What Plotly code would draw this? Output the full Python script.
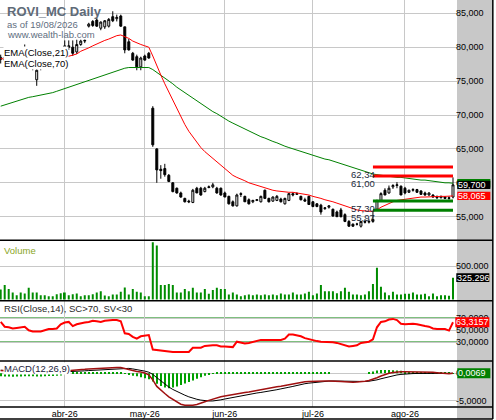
import pandas as pd
import plotly.graph_objects as go

# ---------------- data ----------------
HOLIDAYS = ["2026-04-03", "2026-04-06", "2026-05-01"]
dates = [d.strftime("%Y-%m-%d") for d in pd.bdate_range("2026-03-10", "2026-08-19")
         if d.strftime("%Y-%m-%d") not in HOLIDAYS]

month_ticks = ["2026-04-01", "2026-05-04", "2026-06-01", "2026-07-01", "2026-08-03"]
month_labels = ["abr-26", "may-26", "jun-26", "jul-26", "ago-26"]

open_ = [78.2,78.5,78.1,77.6,78.0,78.8,78.4,79.6,78.2,75.2,
         77.5,77.0,77.8,78.5,78.2,79.0,79.6,80.2,80.0,79.3,
         80.4,80.9,83.1,83.8,84.0,82.8,83.0,83.1,84.5,84.2,
         84.6,83.0,80.8,79.1,78.6,77.1,78.7,79.1,71.0,65.0,
         62.0,62.1,61.1,60.0,59.2,58.5,57.7,57.3,57.1,59.2,
         59.2,58.7,59.3,59.4,59.2,59.2,58.5,58.0,57.2,56.6,
         58.4,58.0,57.5,57.2,57.4,57.2,58.9,57.7,57.3,57.4,
         57.6,56.9,57.4,58.4,58.3,58.0,57.5,58.0,57.2,56.9,
         56.7,56.2,56.4,56.1,55.7,56.0,55.3,54.3,53.9,53.9,
         53.6,54.3,54.2,54.3,56.1,57.4,58.9,58.5,59.4,59.6,
         59.5,59.2,58.6,58.9,59.0,58.8,58.5,58.2,58.2,58.0,
         57.8,57.9,57.8,57.9]
high = [78.9,79.2,78.6,78.3,79.0,79.5,80.4,79.8,78.5,77.0,
        78.0,78.4,78.8,79.0,79.3,79.6,81.0,81.0,81.0,81.1,
        81.1,81.1,83.6,84.0,84.3,83.8,84.0,84.3,85.3,84.8,
        84.8,83.0,81.2,79.3,78.9,78.6,78.9,79.3,71.3,65.1,
        62.6,62.8,61.3,60.1,59.3,58.7,57.8,57.5,59.1,59.4,
        59.4,59.4,59.6,60.0,59.4,59.3,58.7,58.1,57.4,58.4,
        58.6,58.1,57.7,57.5,57.6,58.1,59.0,57.8,58.0,58.2,
        57.8,57.8,58.5,58.6,58.6,58.1,57.8,58.1,57.3,57.0,
        56.9,56.4,56.7,56.2,55.9,56.3,55.5,54.5,54.0,54.1,
        54.4,54.6,54.6,55.9,57.5,58.6,59.2,59.6,59.8,60.1,
        59.6,59.4,59.0,59.2,59.1,58.9,58.7,58.6,58.3,58.1,
        58.1,58.0,58.0,60.8]
low = [77.6,78.0,77.4,77.2,77.8,78.2,78.2,78.0,76.6,74.3,
       76.6,76.8,77.4,77.9,78.0,78.5,79.0,79.6,78.7,79.0,
       80.2,80.6,82.9,83.0,83.0,82.5,82.7,82.9,83.7,83.8,
       83.0,79.1,79.5,78.0,76.6,76.6,78.0,78.3,65.3,60.0,
       60.6,60.9,60.1,58.6,58.4,57.8,57.1,57.0,57.0,58.5,
       58.1,58.6,59.2,59.2,58.4,58.1,57.9,56.8,56.5,56.5,
       57.9,57.2,56.8,57.0,57.3,57.1,57.6,57.1,57.2,57.3,
       57.1,56.8,57.3,58.0,58.2,57.4,57.2,56.8,56.4,56.4,
       55.3,56.0,56.2,55.0,55.0,54.9,54.2,53.5,53.5,53.7,
       53.4,54.0,54.0,54.1,55.9,57.2,58.2,58.4,59.1,59.2,
       58.2,58.3,58.5,58.7,58.5,58.2,58.1,58.1,57.8,57.6,
       57.7,57.6,57.5,57.7]
close = [78.5,78.1,77.6,78.0,78.8,78.4,79.6,78.2,77.0,76.6,
         76.9,77.8,78.5,78.2,79.0,79.4,80.2,80.0,79.1,80.4,
         80.9,81.0,83.4,83.2,83.1,83.7,83.9,84.1,83.9,84.4,
         83.1,79.6,79.6,78.1,77.1,78.4,78.1,78.4,65.6,61.9,
         61.8,61.2,60.2,58.7,58.5,57.9,57.2,57.2,58.9,58.5,
         58.2,59.2,59.4,59.7,58.5,58.2,57.9,56.9,56.6,58.2,
         58.3,57.2,56.9,57.4,57.5,58.0,57.7,57.2,57.9,58.0,
         57.2,57.7,58.4,58.2,58.4,57.5,57.3,56.8,56.5,56.5,
         55.7,56.3,56.6,55.1,55.0,55.0,54.3,53.6,53.6,53.9,
         54.3,54.2,54.3,54.6,57.4,58.4,58.2,59.2,59.6,59.7,
         58.2,58.5,58.9,59.0,58.6,58.3,58.2,58.5,57.9,57.8,
         58.0,57.7,57.7,59.7]

ema21 = [78.3,78.3,78.3,78.2,78.2,78.2,78.3,78.2,78.0,77.9,
         77.8,77.8,77.9,78.0,78.1,78.3,78.5,78.7,78.8,79.0,
         79.4,79.6,79.9,80.2,80.5,80.7,81.0,81.2,81.5,81.7,
         81.8,81.6,81.3,80.9,80.6,80.4,80.2,80.0,78.7,77.2,
         75.9,74.6,73.4,72.1,70.9,69.7,68.6,67.6,66.8,66.0,
         65.2,64.6,64.1,63.6,63.1,62.6,62.1,61.6,61.1,60.8,
         60.6,60.3,60.0,59.8,59.6,59.4,59.2,59.0,58.9,58.8,
         58.7,58.6,58.6,58.6,58.5,58.5,58.4,58.2,58.0,57.9,
         57.7,57.5,57.4,57.2,57.0,56.8,56.6,56.3,56.2,56.0,
         55.9,55.8,55.8,55.8,56.0,56.4,56.7,57.0,57.2,57.4,
         57.5,57.6,57.7,57.8,57.9,57.9,57.9,57.95,57.95,57.95,
         58.0,58.0,58.0,58.065]
ema70 = [71.3,71.5,71.7,71.9,72.1,72.3,72.5,72.6,72.7,72.8,
         72.9,73.0,73.2,73.3,73.5,73.7,73.9,74.1,74.3,74.5,
         74.7,74.9,75.1,75.3,75.5,75.8,76.0,76.2,76.4,76.6,
         76.8,76.9,77.0,77.0,77.0,77.0,77.0,77.0,76.7,76.3,
         75.9,75.5,75.0,74.6,74.1,73.7,73.2,72.8,72.4,72.0,
         71.6,71.2,70.9,70.5,70.2,69.8,69.5,69.1,68.8,68.5,
         68.2,67.9,67.7,67.4,67.1,66.8,66.6,66.3,66.1,65.9,
         65.6,65.4,65.2,65.0,64.8,64.6,64.5,64.3,64.1,63.9,
         63.7,63.5,63.4,63.2,63.0,62.8,62.6,62.4,62.2,62.0,
         61.8,61.6,61.4,61.3,61.2,61.1,61.0,61.0,60.9,60.8,
         60.8,60.7,60.6,60.6,60.5,60.4,60.4,60.3,60.2,60.2,
         60.1,60.0,60.0,59.93]

volume = [150000,215000,155000,105000,65000,105000,90000,175000,105000,105000,
          65000,65000,50000,50000,80000,95000,105000,65000,80000,90000,
          50000,65000,65000,80000,105000,125000,60000,50000,75000,75000,
          115000,180000,75000,155000,115000,105000,50000,50000,855000,805000,
          215000,215000,230000,215000,105000,105000,155000,125000,175000,105000,
          105000,155000,85000,140000,175000,155000,155000,75000,105000,75000,
          50000,65000,75000,65000,75000,65000,75000,65000,75000,65000,
          90000,75000,75000,105000,75000,75000,90000,115000,65000,90000,
          215000,125000,125000,125000,95000,125000,175000,115000,75000,75000,
          65000,75000,125000,230000,475000,190000,105000,65000,115000,75000,
          75000,85000,85000,105000,75000,75000,85000,50000,90000,50000,
          65000,65000,55000,325296]

rsi = [64,56,55,53,54,55,56,50,48,48,
       48,50,52,52,53,60,63,64,57,60,
       62,63,64,66,65,64,66,67,67,67,
       65,45,44,39,36,40,41,42,18,17,
       16,16,15,14,14,14,14,14,21,21,
       21,24,25,25,25,23,23,22,22,31,
       29,28,29,31,33,34,34,34,35,35,
       34,36,43,43,42,40,37,35,34,32,
       31,31,31,30,29,27,24,23,24,25,
       29,30,31,35,55,64,65,68,69,67,
       61,60,61,61,60,58,57,56,53,52,
       52,52,49.5,63.3157]

macd = [0.5,0.45,0.4,0.35,0.3,0.25,0.25,0.2,0.1,0.05,
        0.05,0.1,0.15,0.2,0.25,0.3,0.35,0.4,0.45,0.55,
        0.65,0.72,0.8,0.85,0.88,0.91,0.95,1.0,1.04,1.05,
        1.04,0.85,0.6,0.45,0.35,0.25,0.05,-0.3,-1.2,-2.4,
        -3.1,-3.7,-4.3,-4.8,-5.3,-5.65,-5.85,-5.9,-5.85,-5.7,
        -5.5,-5.2,-4.95,-4.7,-4.5,-4.3,-4.15,-4.0,-3.85,-3.75,
        -3.65,-3.5,-3.4,-3.25,-3.1,-2.95,-2.8,-2.7,-2.6,-2.45,
        -2.35,-2.25,-2.1,-1.95,-1.8,-1.65,-1.55,-1.5,-1.45,-1.4,
        -1.4,-1.4,-1.4,-1.4,-1.45,-1.5,-1.55,-1.65,-1.65,-1.6,
        -1.55,-1.45,-1.3,-1.1,-0.8,-0.5,-0.2,0.0,0.15,0.25,
        0.3,0.3,0.3,0.3,0.3,0.3,0.25,0.2,0.18,0.12,
        0.05,-0.05,-0.1,0.0]
signal = [0.55,0.55,0.52,0.5,0.47,0.43,0.4,0.36,0.31,0.26,
          0.22,0.2,0.19,0.19,0.2,0.22,0.25,0.28,0.3,0.35,
          0.4,0.45,0.5,0.55,0.6,0.65,0.7,0.76,0.82,0.87,
          0.91,0.95,0.9,0.8,0.7,0.55,0.4,0.2,-0.2,-0.8,
          -1.4,-2.0,-2.5,-2.95,-3.35,-3.7,-4.0,-4.3,-4.55,-4.75,
          -4.9,-5.0,-5.06,-5.06,-5.0,-4.85,-4.7,-4.55,-4.4,-4.25,
          -4.1,-3.95,-3.85,-3.7,-3.6,-3.5,-3.4,-3.3,-3.15,-3.0,
          -2.85,-2.75,-2.55,-2.4,-2.2,-2.0,-1.9,-1.8,-1.7,-1.6,
          -1.53,-1.47,-1.42,-1.4,-1.42,-1.45,-1.5,-1.5,-1.5,-1.52,
          -1.52,-1.5,-1.45,-1.35,-1.2,-1.0,-0.8,-0.6,-0.43,-0.3,
          -0.2,-0.12,-0.08,-0.05,-0.03,-0.02,0.0,0.0,0.0,0.0,
          0.0,0.0,0.0,0.0]
hist = [-0.55,-0.6,-0.6,-0.65,-0.6,-0.6,-0.55,-0.55,-0.55,-0.6,
        -0.6,-0.55,-0.5,-0.5,-0.45,-0.4,-0.1,0.15,0.15,0.15,
        0.15,0.15,0.15,0.15,0.15,0.15,0.15,0.15,0.15,0.15,
        0.15,-0.1,-0.3,-0.45,-0.55,-0.7,-0.9,-1.1,-1.5,-1.9,
        -2.3,-2.6,-2.75,-2.6,-2.4,-2.15,-1.85,-1.6,-1.3,-1.0,
        -0.7,-0.45,-0.25,-0.1,0.15,0.15,0.15,0.15,0.15,0.15,
        0.15,0.15,0.15,0.15,0.15,0.15,0.15,0.15,0.15,0.15,
        0.15,0.15,0.15,0.15,0.15,0.15,0.15,0.15,0.15,0.15,
        0.15,0.15,0.15,0.0,0.0,0.0,0.0,0.0,0.0,0.0,
        0.0,0.0,0.2,0.35,0.5,0.6,0.6,0.6,0.55,0.5,
        0.45,0.25,0.25,0.25,0.25,0.25,0.25,0.25,0.25,0.25,
        0.25,0.25,0.25,0.0069]

levels_red = [62.34, 61.00]
levels_green = [57.30, 55.97]
level_texts_red = ["62,34", "61,00"]
level_texts_green = ["57,30", "55,97"]
level_start, level_end = dates[93], dates[113]

# ---------------- layout helpers ----------------
W, H = 496, 420
PLOT_W, PLOT_H = 456.7, 407.0
FONT = "Liberation Sans, Arial, sans-serif"
GRID = "#c8c8c8"
TICK_SIZE = 9


def X(px):
    return px / PLOT_W


def Y(px):
    return (PLOT_H - px) / PLOT_H


fig = go.Figure()

# price pane
fig.add_trace(go.Scatter(x=dates, y=ema70, mode="lines", line=dict(color="#008000", width=1),
                         yaxis="y", hoverinfo="skip"))
fig.add_trace(go.Scatter(x=dates, y=ema21, mode="lines", line=dict(color="#ff0000", width=1),
                         yaxis="y", hoverinfo="skip"))
fig.add_trace(go.Candlestick(x=dates, open=open_, high=high, low=low, close=close,
                             increasing=dict(line=dict(color="black", width=1), fillcolor="white"),
                             decreasing=dict(line=dict(color="black", width=1), fillcolor="black"),
                             whiskerwidth=0, yaxis="y"))
for lv in levels_red:
    fig.add_trace(go.Scatter(x=[level_start, level_end], y=[lv, lv], mode="lines",
                             line=dict(color="#ff0000", width=3), yaxis="y"))
for lv in levels_green:
    fig.add_trace(go.Scatter(x=[level_start, level_end], y=[lv, lv], mode="lines",
                             line=dict(color="#008000", width=3), yaxis="y"))

# volume pane
fig.add_trace(go.Bar(x=dates, y=volume, yaxis="y2", width=0.5,
                     marker=dict(color="#008c00", line=dict(width=0))))
# rsi pane
fig.add_trace(go.Scatter(x=dates, y=rsi, mode="lines", yaxis="y3",
                         line=dict(color="#ff0000", width=2)))
# macd pane
fig.add_trace(go.Bar(x=dates, y=hist, yaxis="y4", width=0.25,
                     marker=dict(color="#00a000", line=dict(width=0))))
fig.add_trace(go.Scatter(x=dates, y=signal, mode="lines", yaxis="y4",
                         line=dict(color="black", width=1)))
fig.add_trace(go.Scatter(x=dates, y=macd, mode="lines", yaxis="y4",
                         line=dict(color="#a01010", width=1.5)))

yax_common = dict(side="right", anchor="x", showgrid=True, gridcolor=GRID, gridwidth=1,
                  zeroline=False, ticks="", showline=False, fixedrange=True,
                  ticklabelstandoff=-2,
                  tickfont=dict(size=TICK_SIZE, color="black", family=FONT))

fig.update_layout(
    width=W, height=H, autosize=False,
    margin=dict(l=0, r=W - PLOT_W, t=0, b=H - PLOT_H, pad=0),
    paper_bgcolor="white", plot_bgcolor="white",
    showlegend=False, barmode="overlay", separators=",.",
    font=dict(family=FONT, size=9.5, color="black"),
    xaxis=dict(type="category", categoryorder="array", categoryarray=dates,
               range=[-0.175, 114.0], tickvals=month_ticks, ticktext=month_labels,
               showgrid=True, gridcolor=GRID, gridwidth=1, ticks="", showline=False,
               zeroline=False, anchor="y4", rangeslider=dict(visible=False),
               fixedrange=True, tickfont=dict(size=TICK_SIZE, color="black", family=FONT)),
    yaxis=dict(domain=[Y(240.3), 1], range=[51.52, 86.96],
               tickvals=[55, 60, 65, 70, 75, 80, 85], tickformat=".3f", **yax_common),
    yaxis2=dict(domain=[Y(300.7), Y(240.3)], range=[-17910, 883582],
                tickvals=[500000], tickformat=",d", **yax_common),
    yaxis3=dict(domain=[Y(361), Y(300.7)], range=[-1.17, 99.33],
                tickvals=[30, 50, 70], tickformat=".4f", **yax_common),
    yaxis4=dict(domain=[0, Y(361)], range=[-6.161, 2.249],
                tickvals=[-5, 0], ticktext=["-5,0000", "0,0000"], **yax_common),
)

shapes = []
# gray value strip on the right
shapes.append(dict(type="rect", xref="paper", yref="paper", x0=1, x1=X(492.5), y0=Y(419), y1=1,
                   fillcolor="#c8c8c8", line=dict(width=0), layer="below"))
# RSI thresholds
for lv in (30, 70):
    shapes.append(dict(type="line", xref="paper", yref="y3", x0=0, x1=1, y0=lv, y1=lv,
                       line=dict(color="#008000", width=1.5), layer="between"))
# pane borders
for px in (240.3, 300.7, 361, 407, 419):
    shapes.append(dict(type="line", xref="paper", yref="paper", x0=0, x1=X(492.5),
                       y0=Y(px), y1=Y(px), line=dict(color="black", width=1.5), layer="above"))
shapes.append(dict(type="line", xref="paper", yref="paper", x0=X(492.5), x1=X(492.5),
                   y0=Y(419), y1=1, line=dict(color="black", width=1.5), layer="above"))


def value_box(yref, value, color, x0px, x1px, half):
    shapes.append(dict(type="rect", xref="paper", x0=X(x0px), x1=X(x1px),
                       yref=yref, ysizemode="pixel", yanchor=value, y0=-half, y1=half,
                       fillcolor=color, line=dict(width=0), layer="above"))


value_box("y", ema70[-1], "#008000", 457, 490, 4.3)
value_box("y", close[-1], "black", 457, 490, 4.2)
value_box("y", ema21[-1], "#ff0000", 457, 490, 4.2)
value_box("y2", volume[-1], "black", 456, 489, 4.4)
value_box("y3", rsi[-1], "#ff0000", 455, 489, 5)
value_box("y4", hist[-1], "#008000", 457, 490, 5)
fig.update_layout(shapes=shapes)

ann = []


def txt(text, x, y, xref="paper", yref="paper", xanchor="left", yanchor="middle",
        size=9.5, color="black", bg=None, xshift=0, yshift=0):
    d = dict(text=text, x=x, y=y, xref=xref, yref=yref, xanchor=xanchor, yanchor=yanchor,
             showarrow=False, font=dict(size=size, color=color, family=FONT),
             xshift=xshift, yshift=yshift, borderpad=0)
    if bg:
        d["bgcolor"] = bg
    ann.append(d)


# header
txt("<b>ROVI_MC Daily</b>", 0, Y(11.5), size=13, color="#5f6b78", xshift=6)
txt("as of 19/08/2026", 0, Y(24), size=9.5, color="#5f6e80", xshift=6)
txt("www.wealth-lab.com", 0, Y(35), size=9.5, color="#5f6e80", xshift=6)
txt("EMA(Close,21)", 0, Y(52.5), color="black", bg="white", xshift=3)
txt("EMA(Close,70)", 0, Y(63.5), color="black", bg="white", xshift=3)
# pane titles
txt("Volume", 0, Y(250), color="#8aa524", xshift=3)
txt("RSI(Close,14), SC>70, SV<30", 0, Y(308), color="#2a2a2a", xshift=3)
txt("MACD(12,26,9)", 0, Y(368.5), color="#1a1a3a", bg="white", xshift=3)
# level labels
for lv, t in zip(levels_red + levels_green, level_texts_red + level_texts_green):
    txt(t, level_start, lv, xref="x", yref="y", xanchor="right", yanchor="top",
        color="#1c2a3a", xshift=3, yshift=-1)
# right value labels
txt("59,700", 1, close[-1], yref="y", color="white", size=TICK_SIZE, xshift=0)
txt("58,065", 1, ema21[-1], yref="y", color="white", size=TICK_SIZE, xshift=0)
txt("325.296", 1, volume[-1], yref="y2", color="white", size=TICK_SIZE, xshift=-1)
txt("63,3157", 1, rsi[-1], yref="y3", color="white", size=TICK_SIZE, xshift=-2)
txt("0,0069", 1, hist[-1], yref="y4", color="white", size=TICK_SIZE, xshift=0)
fig.update_layout(annotations=ann)

fig.write_html("out.html", config={"displayModeBar": False},
               post_script="document.body.style.margin='0';document.body.style.padding='0';"
                           "document.documentElement.style.overflow='hidden';")
